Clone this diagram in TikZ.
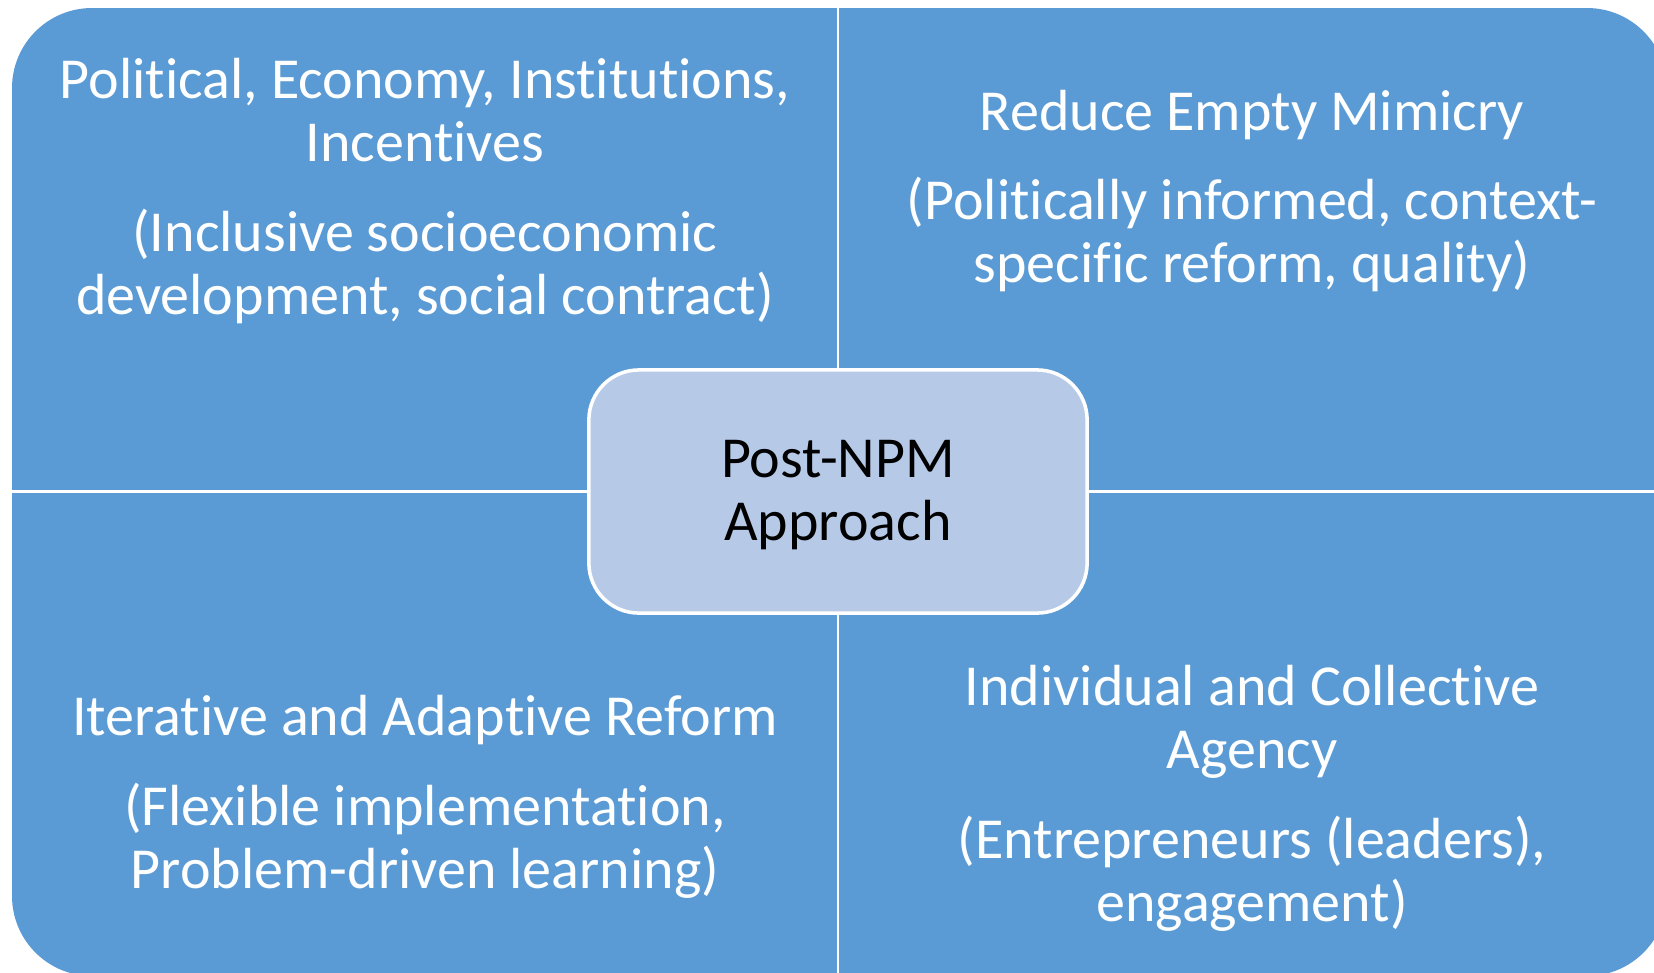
\documentclass[tikz,border=0pt]{standalone}
\usepackage{fontspec}
\setmainfont{Carlito}[Ligatures=NoCommon]
\usetikzlibrary{positioning}
\definecolor{panelblue}{RGB}{91,155,213}
\definecolor{hubblue}{RGB}{182,202,232}
\tikzset{
  quadtext/.style={text=white, align=center, font=\fontsize{16.5}{17.9}\selectfont},
  hub/.style={draw=white, line width=1pt, fill=hubblue, rounded corners=0.5cm,
    minimum width=4.98cm, minimum height=2.43cm},
  hubtext/.style={align=center, font=\fontsize{16.5}{17.9}\selectfont},
  divider/.style={draw=white, line width=0.8pt}
}
\begin{document}
\begin{tikzpicture}[x=0.01cm,y=-0.01cm]
\useasboundingbox (0,0) rectangle (1654,972);
\clip (0,0) rectangle (1654,972);
% big rounded panel, runs off the right and bottom edges
\fill[panelblue, rounded corners=0.8cm] (12,8) rectangle (1667,976);
\node[hub] (hub) at (838,491.5) {};
\node[hubtext] (hublabel) at (838,495) {Post-NPM\\Approach};
% ends of the dividers on the panel edge
\coordinate (top) at (838,8);
\coordinate (bottom) at (838,976);
\coordinate (left) at (12,491.5);
\coordinate (right) at (1667,491.5);
\draw[divider] (hub.north) -- (top);
\draw[divider] (hub.south) -- (bottom);
\draw[divider] (hub.west) -- (left);
\draw[divider] (hub.east) -- (right);
% the four quadrants
\node[quadtext] (nw) at (425,191) {Political, Economy, Institutions,\\Incentives\\[0.27cm](Inclusive socioeconomic\\development, social contract)};
\node[quadtext] (ne) at (1252,191) {Reduce Empty Mimicry\\[0.27cm](Politically informed, context-\\specific reform, quality)};
\node[quadtext] (sw) at (425,797) {Iterative and Adaptive Reform\\[0.27cm](Flexible implementation,\\Problem-driven learning)};
\node[quadtext] (se) at (1252,798) {Individual and Collective\\Agency\\[0.27cm](Entrepreneurs (leaders),\\engagement)};
\end{tikzpicture}
\end{document}
